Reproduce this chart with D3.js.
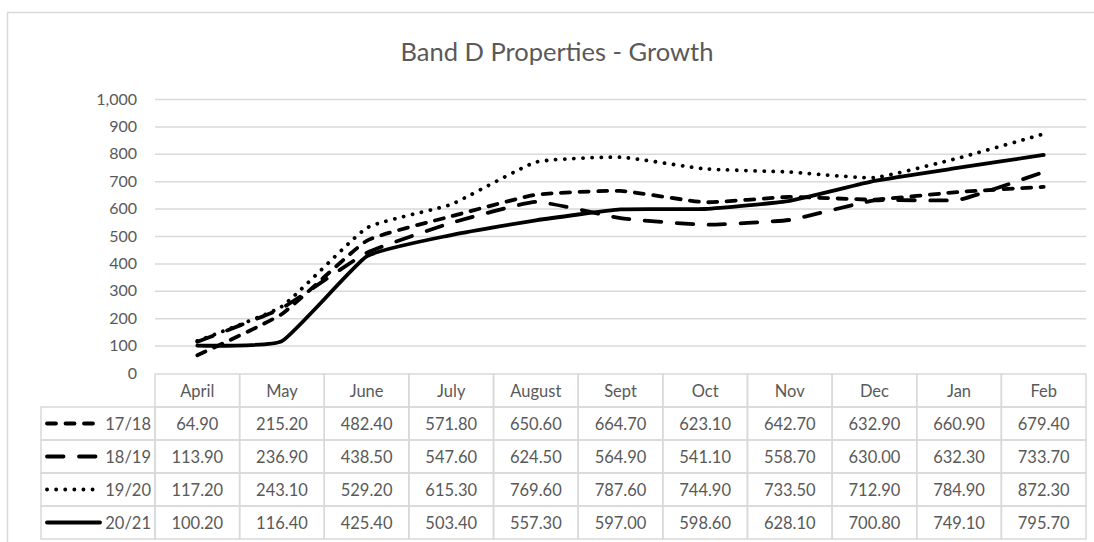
<!DOCTYPE html>
<html>
<head>
<meta charset="utf-8">
<script src="https://cdn.jsdelivr.net/npm/d3@7"></script>
<style>
  html, body { margin: 0; padding: 0; background: #fff; }
  svg text { font-family: Lato, "Noto Sans", sans-serif; fill: #595959; }
</style>
</head>
<body>
<svg id="chart" width="1094" height="542"></svg>
<script>
// chart data
const months = ["April", "May", "June", "July", "August", "Sept", "Oct", "Nov", "Dec", "Jan", "Feb"];
const seriesNames = ["17/18", "18/19", "19/20", "20/21"];
const v1718 = [64.90, 215.20, 482.40, 571.80, 650.60, 664.70, 623.10, 642.70, 632.90, 660.90, 679.40];
const v1819 = [113.90, 236.90, 438.50, 547.60, 624.50, 564.90, 541.10, 558.70, 630.00, 632.30, 733.70];
const v1920 = [117.20, 243.10, 529.20, 615.30, 769.60, 787.60, 744.90, 733.50, 712.90, 784.90, 872.30];
const v2021 = [100.20, 116.40, 425.40, 503.40, 557.30, 597.00, 598.60, 628.10, 700.80, 749.10, 795.70];
const yTicks = [0, 100, 200, 300, 400, 500, 600, 700, 800, 900, 1000];

const seriesValues = [v1718, v1819, v1920, v2021];
// dash styles per series (dash, long dash, round dot, solid)
const dashes = ["9,9.5", "16.5,15.5", "0.1,9", null];

const gridColor = "#d9d9d9";
const svg = d3.select("#chart");

// outer chart border
svg.append("rect")
    .attr("x", 7.5).attr("y", 12.5)
    .attr("width", 1200).attr("height", 600)
    .attr("fill", "none")
    .attr("stroke", gridColor)
    .attr("stroke-width", 1.5);

// title
svg.append("text")
    .attr("x", 557).attr("y", 61)
    .attr("text-anchor", "middle")
    .style("font-size", "25.5px")
    .text("Band D Properties - Growth");

const x = d3.scaleBand().domain(months).range([155, 1086]);
const y = d3.scaleLinear().domain([0, 1000]).range([373, 99]);

// gridlines + y labels
const yAxis = svg.append("g")
    .attr("transform", "translate(155,0)")
    .call(d3.axisLeft(y).tickValues(yTicks).tickSize(-(1086 - 155)).tickPadding(18)
        .tickFormat(d3.format(",")));
yAxis.select(".domain").remove();
yAxis.selectAll(".tick line").attr("stroke", gridColor).attr("stroke-width", 1.5);
yAxis.selectAll(".tick text")
    .attr("fill", "#595959")
    .style("font-size", "16px")
    .style("font-family", "Lato, 'Noto Sans', sans-serif");
yAxis.selectAll(".tick").filter(d => d === 0).select("line").remove();

// lines (Excel style light smoothing)
const line = d3.line()
    .x((d, i) => x(months[i]) + x.bandwidth() / 2)
    .y(d => y(d))
    .curve(d3.curveCardinal.tension(0.6));

seriesValues.forEach((vals, i) => {
    svg.append("path")
        .datum(vals)
        .attr("d", line)
        .attr("fill", "none")
        .attr("stroke", "#000")
        .attr("stroke-width", 3.8)
        .attr("stroke-linecap", "round")
        .attr("stroke-linejoin", "round")
        .attr("stroke-dasharray", dashes[i]);
});

// data table
const rowY = d3.scaleBand().domain(["head"].concat(seriesNames)).range([374, 539]);
const tableLeft = 41;
const table = svg.append("g");

// header cells
months.forEach(m => {
    table.append("rect")
        .attr("x", x(m)).attr("y", rowY("head"))
        .attr("width", x.bandwidth()).attr("height", rowY.bandwidth())
        .attr("fill", "none").attr("stroke", gridColor).attr("stroke-width", 1.5);
    table.append("text")
        .attr("x", x(m) + x.bandwidth() / 2)
        .attr("y", rowY("head") + rowY.bandwidth() / 2 + 6)
        .attr("text-anchor", "middle")
        .style("font-size", "16.5px")
        .text(m);
});

seriesNames.forEach((name, si) => {
    const ry = rowY(name);
    // legend cell
    table.append("rect")
        .attr("x", tableLeft).attr("y", ry)
        .attr("width", x(months[0]) - tableLeft).attr("height", rowY.bandwidth())
        .attr("fill", "none").attr("stroke", gridColor).attr("stroke-width", 1.5);
    table.append("line")
        .attr("x1", 47).attr("x2", 100)
        .attr("y1", ry + rowY.bandwidth() / 2).attr("y2", ry + rowY.bandwidth() / 2)
        .attr("stroke", "#000")
        .attr("stroke-width", 3.8)
        .attr("stroke-linecap", "round")
        .attr("stroke-dasharray", dashes[si]);
    table.append("text")
        .attr("x", 151)
        .attr("y", ry + rowY.bandwidth() / 2 + 6)
        .attr("text-anchor", "end")
        .style("font-size", "16.5px")
        .text(name);

    seriesValues[si].forEach((v, mi) => {
        const m = months[mi];
        table.append("rect")
            .attr("x", x(m)).attr("y", ry)
            .attr("width", x.bandwidth()).attr("height", rowY.bandwidth())
            .attr("fill", "none").attr("stroke", gridColor).attr("stroke-width", 1.5);
        table.append("text")
            .attr("x", x(m) + x.bandwidth() / 2)
            .attr("y", ry + rowY.bandwidth() / 2 + 6)
            .attr("text-anchor", "middle")
            .style("font-size", "16.5px")
            .text(d3.format(".2f")(v));
    });
});
</script>
</body>
</html>
